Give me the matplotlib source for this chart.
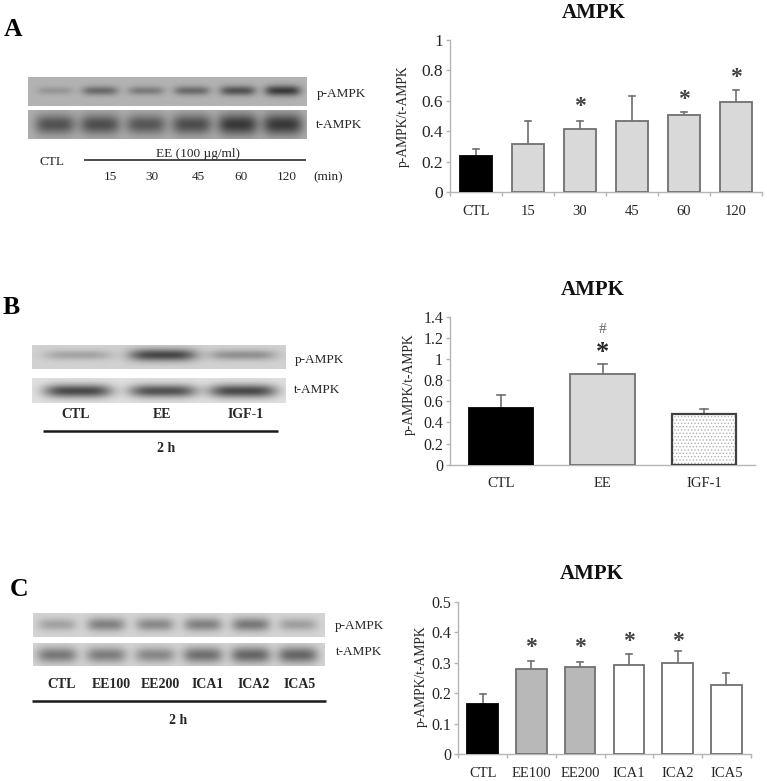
import numpy as np
import matplotlib
matplotlib.use("Agg")
import matplotlib.pyplot as plt

plt.rcParams['font.family'] = ['Liberation Serif', 'DejaVu Serif']
plt.rcParams['hatch.linewidth'] = 0.6

# ---------- data ----------
cats_a = ['CTL', '15', '30', '45', '60', '120']
vals_a = [0.24, 0.32, 0.415, 0.465, 0.505, 0.59]
tops_a = [0.285, 0.465, 0.47, 0.635, 0.53, 0.67]
ticks_a = [0, 0.2, 0.4, 0.6, 0.8, 1]
ticklabels_a = ['0', '0.2', '0.4', '0.6', '0.8', '1']
stars_a = {2: 0.588, 4: 0.632, 5: 0.777}

cats_b = ['CTL', 'EE', 'IGF-1']
vals_b = [0.535, 0.855, 0.48]
tops_b = [0.66, 0.955, 0.525]
ticks_b = [0, 0.2, 0.4, 0.6, 0.8, 1, 1.2, 1.4]
ticklabels_b = ['0', '0.2', '0.4', '0.6', '0.8', '1', '1.2', '1.4']

cats_c = ['CTL', 'EE100', 'EE200', 'ICA1', 'ICA2', 'ICA5']
vals_c = [0.165, 0.278, 0.287, 0.293, 0.298, 0.226]
tops_c = [0.197, 0.305, 0.303, 0.33, 0.337, 0.265]
ticks_c = [0, 0.1, 0.2, 0.3, 0.4, 0.5]
ticklabels_c = ['0', '0.1', '0.2', '0.3', '0.4', '0.5']
stars_c = {1: 0.36, 2: 0.36, 3: 0.38, 4: 0.382}

# band strengths of the blots (0 = background, 1 = darkest)
blot_a_p = [0.22, 0.55, 0.42, 0.55, 0.72, 0.9]
blot_a_t = [0.72, 0.75, 0.68, 0.76, 0.92, 0.92]
blot_b_p = [0.28, 0.85, 0.4]
blot_b_t = [0.85, 0.8, 0.85]
blot_c_p = [0.3, 0.5, 0.45, 0.5, 0.55, 0.32]
blot_c_t = [0.55, 0.52, 0.46, 0.6, 0.66, 0.66]

W, H = 767, 781
fig = plt.figure(figsize=(W / 100, H / 100), dpi=100, facecolor='white')
page = fig.add_axes([0, 0, 1, 1])
page.set_xlim(0, W)
page.set_ylim(H, 0)
page.axis('off')

TXT = '#262626'


def blot(box, centers, strengths, halfw, sig, bg, yc):
    x0, x1, y0, y1 = box
    xs = np.linspace(x0, x1, int((x1 - x0) * 2))
    ys = np.linspace(y0, y1, int((y1 - y0) * 3))
    X, Y = np.meshgrid(xs, ys)
    img = np.full(X.shape, bg, dtype=float)
    for c, s in zip(centers, strengths):
        prof = np.exp(-((X - c) / halfw) ** 4 - ((Y - yc) / (sig * (0.7 + 0.4 * s))) ** 2)
        img -= s * (bg - 0.18) * prof
    page.imshow(img, extent=(x0, x1, y1, y0), cmap='gray', vmin=0, vmax=1,
                aspect='auto', interpolation='bilinear', zorder=1)


def label(x, y, s, size=9.5, weight='normal', ha='center'):
    page.text(x, y, s, fontsize=size, fontweight=weight, ha=ha, va='center', color=TXT)


def hline(x0, x1, y, lw=1.4):
    page.plot([x0, x1], [y, y], color='#1a1a1a', lw=lw, solid_capstyle='butt')


# ---------- blots and left-hand labels ----------
ca = [55, 100, 146, 192, 238, 283]
blot((28, 307, 77, 106), ca, blot_a_p, 18, 5, 0.70, 90.7)
blot((28, 307, 110, 139), ca, blot_a_t, 20, 10, 0.68, 124.5)
label(317, 94, 'p-AMPK', ha='left')
label(316, 125, 't-AMPK', ha='left')
label(52, 162, 'CTL')
hline(84, 306, 160, 1.1)
label(198, 154, 'EE (100 µg/ml)')
for x, s in zip([110, 152, 198, 241, 287], cats_a[1:]):
    label(x, 177, s)
label(328, 177, '(min)')

cb = [78, 163, 243]
blot((32, 286, 345, 369), cb, blot_b_p, 34, 6, 0.82, 355)
blot((32, 286, 378, 403), cb, blot_b_t, 34, 6.5, 0.88, 391)
label(295, 360, 'p-AMPK', ha='left')
label(294, 390, 't-AMPK', ha='left')
for x, s in zip([76, 162, 246], cats_b):
    label(x, 415, s, weight='bold', size=10)
hline(43, 278, 431, 1.8)
label(166, 448, '2 h', weight='bold', size=10)

cc = [57, 106, 155, 203, 251, 298]
blot((33, 325, 613, 637), cc, blot_c_p, 19, 7.5, 0.83, 624.5)
blot((33, 325, 643, 666), cc, blot_c_t, 20, 8.5, 0.83, 655)
label(335, 626, 'p-AMPK', ha='left')
label(336, 652, 't-AMPK', ha='left')
for x, s in zip([62, 111, 160, 208, 254, 300], cats_c):
    label(x, 685, s, weight='bold', size=10)
hline(32, 326, 701, 1.8)
label(178, 720, '2 h', weight='bold', size=10)

for x, y, s in [(4, 29, 'A'), (3, 308, 'B'), (10, 589, 'C')]:
    page.text(x, y, s, fontsize=18.5, fontweight='bold', ha='left', va='center', color='black')


# ---------- bar charts ----------
def chart(box, cats, vals, tops, colors, ticks, ticklabels, ymax, title, title_xy,
          xticks=True, fs=11.5, lab_x=None, lab_y=None):
    x0, x1, ytop, ybot = box
    ax = fig.add_axes([x0 / W, 1 - ybot / H, (x1 - x0) / W, (ybot - ytop) / H])
    ax.patch.set_alpha(0)
    x = np.arange(len(cats))
    for i, (v, t) in enumerate(zip(vals, tops)):
        ax.plot([i, i], [v, t], color='#707070', lw=1.2, zorder=2)
        ax.plot([i - 0.06, i + 0.06] if len(cats) == 6 else [i - 0.04, i + 0.04], [t, t],
                color='#707070', lw=1.2, zorder=2)
    for i, (v, c) in enumerate(zip(vals, colors)):
        if c == 'dots':
            ax.bar(x[i], v, 0.63, facecolor='white', edgecolor='#b0b0b0', hatch='.....', lw=0, zorder=3)
            ax.bar(x[i], v, 0.63, facecolor='none', edgecolor='#404040', lw=1.6, zorder=4)
        else:
            ec = 'black' if c == 'black' else '#707070'
            ax.bar(x[i], v, 0.63, color=c, edgecolor=ec, lw=1.3, zorder=3)
    ax.set_xlim(-0.5, len(cats) - 0.5)
    ax.set_ylim(0, ymax)
    ax.set_yticks(ticks)
    ax.set_yticklabels(ticklabels, fontsize=fs, color=TXT)
    ax.set_xticks(x)
    ax.set_xticklabels(cats, fontsize=10.5, color=TXT)
    ax.tick_params(axis='x', length=0, pad=9)
    ax.tick_params(axis='y', length=3, color='#b5b5b5', width=1, pad=2)
    if xticks:
        ax.set_xticks(np.arange(len(cats) + 1) - 0.5, minor=True)
        ax.tick_params(axis='x', which='minor', length=3, color='#b5b5b5', width=1)
    for s in ('top', 'right'):
        ax.spines[s].set_visible(False)
    for s in ('left', 'bottom'):
        ax.spines[s].set_color('#b5b5b5')
        ax.spines[s].set_linewidth(1)
    page.text(lab_x, lab_y, 'p-AMPK/t-AMPK', rotation=90, fontsize=9.8, ha='center', va='center', color=TXT)
    page.text(title_xy[0], title_xy[1], title, fontsize=15, fontweight='bold', ha='center', va='center', color='#111111')
    return ax


def star(ax, i, y, size=17, color='#404040'):
    ax.annotate('*', (i, y), xytext=(0, -2.5), textcoords='offset points', fontsize=size,
                fontweight='bold', ha='center', va='center', color=color, zorder=5)


ax_a = chart((450, 762, 40, 192.3), cats_a, vals_a, tops_a,
             ['black'] + ['#d9d9d9'] * 5, ticks_a, ticklabels_a, 1, 'AMPK', (594, 13),
             fs=12.5, lab_x=403, lab_y=116)
for i, y in stars_a.items():
    star(ax_a, i, y)

ax_b = chart((450, 755, 317, 464.7), cats_b, vals_b, tops_b,
             ['black', '#d9d9d9', 'dots'], ticks_b, ticklabels_b, 1.4, 'AMPK', (593, 290),
             xticks=False, lab_x=409, lab_y=384)
star(ax_b, 1, 1.10, size=19, color='#262626')
ax_b.text(1, 1.286, '#', fontsize=11, ha='center', va='center', color='#606060')

ax_c = chart((458.3, 750.7, 601.7, 754.3), cats_c, vals_c, tops_c,
             ['black', '#b8b8b8', '#b8b8b8', 'white', 'white', 'white'],
             ticks_c, ticklabels_c, 0.5, 'AMPK', (592, 574), lab_x=421, lab_y=676)
for i, y in stars_c.items():
    star(ax_c, i, y)

fig.savefig('out.png', dpi=100, facecolor='white')
